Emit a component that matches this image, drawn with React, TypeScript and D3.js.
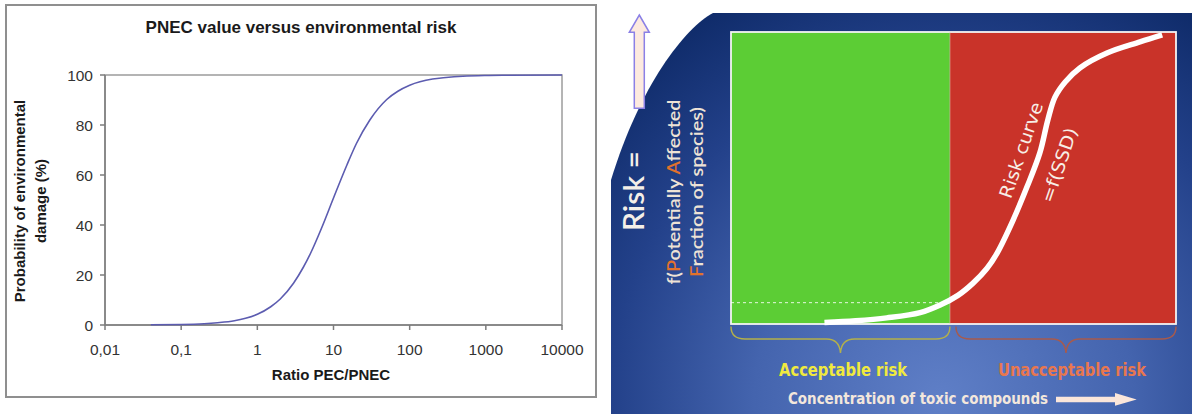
import React from "react";
import * as d3 from "d3";

// ---------- Left chart data ----------
const chartTitle = "PNEC value versus environmental risk";
const ratioValues = [0.04, 0.1, 0.2, 0.3, 0.5, 0.7, 1, 1.5, 2, 3, 4, 5, 7, 10, 15, 20, 30, 50, 70, 100, 200, 300, 500, 1000, 2000, 10000];
const damagePct = [0.1, 0.2, 0.5, 0.9, 1.7, 2.7, 4.3, 7.3, 10.4, 16.8, 23, 28.7, 38.9, 50.8, 64, 72.6, 82, 90.2, 93.5, 95.9, 98.4, 99, 99.5, 99.8, 99.9, 100];
const xTickValues = [0.01, 0.1, 1, 10, 100, 1000, 10000];
const xTickLabels = ["0,01", "0,1", "1", "10", "100", "1000", "10000"];
const yTickValues = [0, 20, 40, 60, 80, 100];
const xAxisTitle = "Ratio PEC/PNEC";
const yAxisTitleLines = ["Probability of environmental", "damage (%)"];

// ---------- Right diagram data ----------
const riskConc = [2.1, 2.8, 3.5, 4.25, 4.7, 5.1, 5.44, 5.75, 5.98, 6.34, 6.65, 6.94, 7.12, 7.28, 7.51, 7.84, 8.45, 9.19, 9.69];
const riskVal = [0.005, 0.011, 0.021, 0.039, 0.065, 0.098, 0.14, 0.19, 0.243, 0.356, 0.469, 0.586, 0.699, 0.777, 0.829, 0.877, 0.928, 0.966, 0.99];
const acceptableLimit = 4.92;
const riskAtLimit = 0.073;
const zoneLabels = ["Acceptable risk", "Unacceptable risk"];
const xCaption = "Concentration of toxic compounds";
const curveLabel = ["Risk curve", "=f(SSD)"];

export default function App() {
  // Left chart scales
  const x = d3.scaleLog().domain([0.01, 10000]).range([105, 562]);
  const y = d3.scaleLinear().domain([0, 100]).range([325, 75]);
  const pts: [number, number][] = ratioValues.map((v, i) => [x(v), y(damagePct[i])]);
  const line = d3.line().curve(d3.curveMonotoneX)(pts) || "";

  // Right diagram scales
  const rx = d3.scaleLinear().domain([0, 10]).range([731, 1176]);
  const ry = d3.scaleLinear().domain([0, 1]).range([324, 32]);
  const rpts: [number, number][] = riskConc.map((v, i) => [rx(v), ry(riskVal[i])]);
  const rline = d3.line().curve(d3.curveCatmullRom.alpha(0.5))(rpts) || "";

  const lf = "'Liberation Sans', Arial, sans-serif";
  const cf = "'Comic Sans MS', 'DejaVu Sans', sans-serif";
  const sf = "Lato, 'Open Sans', sans-serif";

  const xL = rx(0), xM = rx(acceptableLimit), xR = rx(10);
  const yB = ry(0), yT = ry(1);

  const brace = (a: number, b: number) => {
    const m = (a + b) / 2;
    const t = yB + 2.5, h = yB + 15, tip = yB + 29;
    return `M${a},${t} Q${a},${h} ${a + 14},${h} L${m - 14},${h} Q${m - 1},${h} ${m},${tip} Q${m + 1},${h} ${m + 14},${h} L${b - 14},${h} Q${b},${h} ${b},${t}`;
  };

  return (
    <svg width={1192} height={414} style={{ position: "absolute", left: 0, top: 0, background: "#fff" }}>
      <defs>
        <radialGradient id="bg" gradientUnits="userSpaceOnUse" cx={950} cy={395} r={540} fx={940} fy={400}>
          <stop offset="0" stopColor="#5f7fc7" />
          <stop offset="0.35" stopColor="#4464ae" />
          <stop offset="0.62" stopColor="#23418a" />
          <stop offset="0.85" stopColor="#0e2a68" />
          <stop offset="1" stopColor="#061d56" />
        </radialGradient>
      </defs>

      {/* ---------------- Left chart ---------------- */}
      <rect x={6} y={5} width={590} height={392} fill="#fff" stroke="#8f8f8f" strokeWidth={2} />
      <text x={301} y={33} textAnchor="middle" fontFamily={lf} fontWeight="bold" fontSize={17} fill="#1a1a1a">{chartTitle}</text>
      <rect x={105} y={75} width={457} height={250} fill="none" stroke="#9c9c9c" strokeWidth={1.5} />
      <line x1={105} y1={75} x2={105} y2={325} stroke="#7c7c7c" strokeWidth={1.5} />
      <line x1={105} y1={325} x2={562} y2={325} stroke="#7c7c7c" strokeWidth={1.5} />
      {yTickValues.map((t) => (
        <g key={"y" + t}>
          <line x1={100} x2={105} y1={y(t)} y2={y(t)} stroke="#7c7c7c" strokeWidth={1.5} />
          <text x={93} y={y(t)} dy="0.36em" textAnchor="end" fontFamily={lf} fontSize={15.5} fill="#333">{t}</text>
        </g>
      ))}
      {xTickValues.map((t, i) => (
        <g key={"x" + t}>
          <line x1={x(t)} x2={x(t)} y1={325} y2={330} stroke="#7c7c7c" strokeWidth={1.5} />
          <text x={x(t)} y={355} textAnchor="middle" fontFamily={lf} fontSize={15.5} fill="#333">{xTickLabels[i]}</text>
        </g>
      ))}
      <text x={331} y={380} textAnchor="middle" fontFamily={lf} fontWeight="bold" fontSize={15} fill="#1a1a1a">{xAxisTitle}</text>
      {yAxisTitleLines.map((s, i) => (
        <text key={s} transform={`translate(${25 + i * 20.5},201) rotate(-90)`} textAnchor="middle" fontFamily={lf} fontWeight="bold" fontSize={15} fill="#1a1a1a">{s}</text>
      ))}
      <path d={line} fill="none" stroke="#5c5cb0" strokeWidth={1.6} />

      {/* ---------------- Right diagram ---------------- */}
      <path d="M713,13 L1192,13 L1192,414 L611,414 L611,180 C640,85 685,28 713,13 Z" fill="url(#bg)" />
      {/* up arrow */}
      <path d="M639.3,15 L649.3,32.3 L644.3,32.3 L644.3,108.3 L634.3,108.3 L634.3,32.3 L629.3,32.3 Z" fill="#fdeadf" stroke="#8b80e6" strokeWidth={1.5} />

      <text transform="translate(633,191) rotate(-90)" textAnchor="middle" dominantBaseline="central" fontFamily={sf} fontSize={28} fontWeight={600} fill="#f4efe8" textLength={80} lengthAdjust="spacingAndGlyphs">Risk =</text>
      <text transform="translate(680,192) rotate(-90)" textAnchor="middle" fontFamily={sf} fontSize={17.5} fontWeight={600} fill="#eee3d6" textLength={185} lengthAdjust="spacingAndGlyphs">
        f(<tspan fill="#e2722c">P</tspan>otentially <tspan fill="#e2722c">A</tspan>ffected
      </text>
      <text transform="translate(703,192) rotate(-90)" textAnchor="middle" fontFamily={sf} fontSize={17.5} fontWeight={600} fill="#eee3d6" textLength={170} lengthAdjust="spacingAndGlyphs">
        <tspan fill="#e2722c">F</tspan>raction of species)
      </text>

      <rect x={xL} y={yT} width={xM - xL} height={yB - yT} fill="#5ccd35" />
      <rect x={xM} y={yT} width={xR - xM} height={yB - yT} fill="#c93329" />
      <rect x={xL} y={yT} width={xR - xL} height={yB - yT} fill="none" stroke="#f3f3f3" strokeWidth={1.8} />
      <line x1={xM} x2={xM} y1={yT} y2={yB} stroke="#e8c9b8" strokeWidth={0.8} opacity={0.7} />
      <line x1={xL} x2={xM} y1={ry(riskAtLimit)} y2={ry(riskAtLimit)} stroke="#ffffff" strokeWidth={1} strokeDasharray="3,3" opacity={0.85} />
      <path d={rline} fill="none" stroke="#ffffff" strokeWidth={5.5} strokeLinecap="butt" />

      <text transform="translate(1021,150) rotate(-71)" textAnchor="middle" dominantBaseline="central" fontFamily={cf} fontSize={18} fill="#f7eee6" textLength={100} lengthAdjust="spacingAndGlyphs">{curveLabel[0]}</text>
      <text transform="translate(1059,165) rotate(-71)" textAnchor="middle" dominantBaseline="central" fontFamily={cf} fontSize={18} fill="#f7eee6" textLength={78} lengthAdjust="spacingAndGlyphs">{curveLabel[1]}</text>

      <path d={brace(xL, xM)} fill="none" stroke="#b4b04a" strokeWidth={1.4} />
      <path d={brace(xM + 6, xR)} fill="none" stroke="#a85a4c" strokeWidth={1.4} />

      <text x={843} y={376} textAnchor="middle" fontFamily={cf} fontSize={17} fontWeight="bold" fill="#f0ea3e" textLength={128} lengthAdjust="spacingAndGlyphs">{zoneLabels[0]}</text>
      <text x={1072} y={376} textAnchor="middle" fontFamily={cf} fontSize={17} fontWeight="bold" fill="#e8774e" textLength={148} lengthAdjust="spacingAndGlyphs">{zoneLabels[1]}</text>
      <text x={918} y={404} textAnchor="middle" fontFamily={cf} fontSize={15.5} fontWeight="bold" fill="#f3e7dc" textLength={260} lengthAdjust="spacingAndGlyphs">{xCaption}</text>
      <path d="M1056,396.7 L1115,396.7 L1115,393 L1136.7,399.5 L1115,405.7 L1115,402.3 L1056,402.3 Z" fill="#fbe6da" />
    </svg>
  );
}
